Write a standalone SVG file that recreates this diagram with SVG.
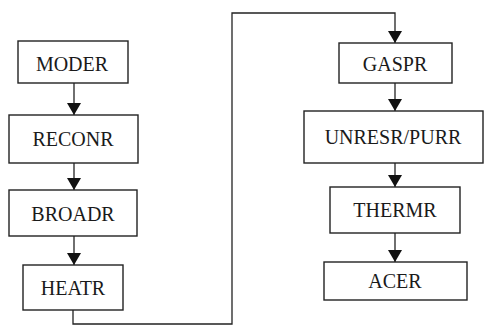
<svg xmlns="http://www.w3.org/2000/svg" width="485" height="326" viewBox="0 0 485 326">
<style>
.box{fill:#fff;stroke:#222;stroke-width:1.4}
.lbl{font-family:'Liberation Serif','Times New Roman','DejaVu Serif',serif;font-size:20px;fill:#1a1a1a;text-anchor:middle}
.ln{fill:none;stroke:#222;stroke-width:1.3}
.ah{fill:#111}
</style>
<rect width="485" height="326" fill="#fff"/>
<g id="connectors">
<line class="ln" x1="74" y1="83" x2="74" y2="115"/>
<path class="ah" d="M67,103 L81,103 L74,115 Z"/>
<line class="ln" x1="74" y1="163" x2="74" y2="190"/>
<path class="ah" d="M67,178 L81,178 L74,190 Z"/>
<line class="ln" x1="74" y1="236" x2="74" y2="265"/>
<path class="ah" d="M67,253 L81,253 L74,265 Z"/>
<polyline class="ln" points="73,310 73,324 232,324 232,13 395,13 395,43"/>
<path class="ah" d="M388,31 L402,31 L395,43 Z"/>
<line class="ln" x1="395" y1="83" x2="395" y2="111"/>
<path class="ah" d="M388,99 L402,99 L395,111 Z"/>
<line class="ln" x1="395" y1="163" x2="395" y2="187"/>
<path class="ah" d="M388,175 L402,175 L395,187 Z"/>
<line class="ln" x1="395" y1="233" x2="395" y2="262"/>
<path class="ah" d="M388,250 L402,250 L395,262 Z"/>
</g>
<g id="moder"><rect class="box" x="18" y="41" width="110" height="42"/><text class="lbl" x="72" y="71">MODER</text></g>
<g id="reconr"><rect class="box" x="9" y="115" width="129" height="48"/><text class="lbl" x="73" y="146">RECONR</text></g>
<g id="broadr"><rect class="box" x="9" y="190" width="128" height="46"/><text class="lbl" x="73" y="221">BROADR</text></g>
<g id="heatr"><rect class="box" x="23" y="265" width="100" height="45"/><text class="lbl" x="73" y="295">HEATR</text></g>
<g id="gaspr"><rect class="box" x="339" y="43" width="113" height="40"/><text class="lbl" x="395" y="71">GASPR</text></g>
<g id="unresr"><rect class="box" x="304" y="111" width="179" height="52"/><text class="lbl" x="393" y="144">UNRESR/PURR</text></g>
<g id="thermr"><rect class="box" x="330" y="187" width="130" height="46"/><text class="lbl" x="395" y="217">THERMR</text></g>
<g id="acer"><rect class="box" x="324" y="262" width="143" height="38"/><text class="lbl" x="395" y="288">ACER</text></g>
</svg>
